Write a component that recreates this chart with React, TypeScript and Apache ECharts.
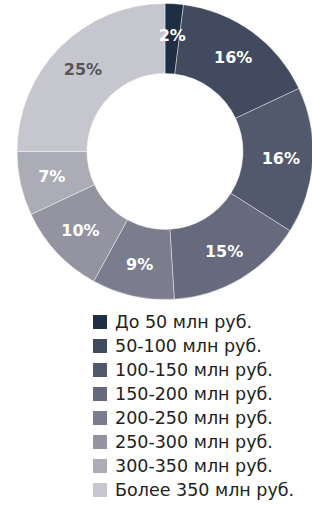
import React, { useEffect, useRef } from "react";
import * as echarts from "echarts";

const categories = [
  "До 50 млн руб.",
  "50-100 млн руб.",
  "100-150 млн руб.",
  "150-200 млн руб.",
  "200-250 млн руб.",
  "250-300 млн руб.",
  "300-350 млн руб.",
  "Более 350 млн руб.",
];
const values = [2, 16, 16, 15, 9, 10, 7, 25];
const colors = ["#1e2e45", "#414a5f", "#52596d", "#676a7d", "#7b7d8e", "#9393a1", "#acacb7", "#c6c6ce"];
const labelColors = ["#fff", "#fff", "#fff", "#fff", "#fff", "#fff", "#fff", "#555"];

export default function App() {
  const ref = useRef<HTMLDivElement>(null);
  useEffect(() => {
    document.body.style.margin = "0";
    if (!ref.current) return;
    const chart = echarts.init(ref.current, undefined, { renderer: "svg" });
    chart.setOption({
      animation: false,
      legend: {
        orient: "vertical",
        left: 91,
        top: 313,
        height: 200,
        padding: 0,
        itemWidth: 16,
        itemHeight: 16,
        itemGap: 6,
        icon: "rect",
        textStyle: { fontFamily: "DejaVu Sans", fontSize: 17.5, color: "#222", padding: [0, 0, 0, 2] },
        data: categories,
      },
      series: [
        {
          type: "pie",
          center: [165, 151.5],
          radius: [78, 148],
          startAngle: 90,
          clockwise: true,
          avoidLabelOverlap: false,
          itemStyle: { borderColor: "#ffffff", borderWidth: 0.4 },
          label: {
            show: true,
            position: "inside",
            formatter: "{c}%",
            fontFamily: "DejaVu Sans",
            fontWeight: "bold",
            fontSize: 16,
          },
          labelLine: { show: false },
          emphasis: { disabled: true },
          data: categories.map((name, i) => ({
            name,
            value: values[i],
            itemStyle: { color: colors[i] },
            label: { color: labelColors[i] },
          })),
        },
      ],
    });
    return () => chart.dispose();
  }, []);
  return <div ref={ref} style={{ width: 312, height: 505 }} />;
}
